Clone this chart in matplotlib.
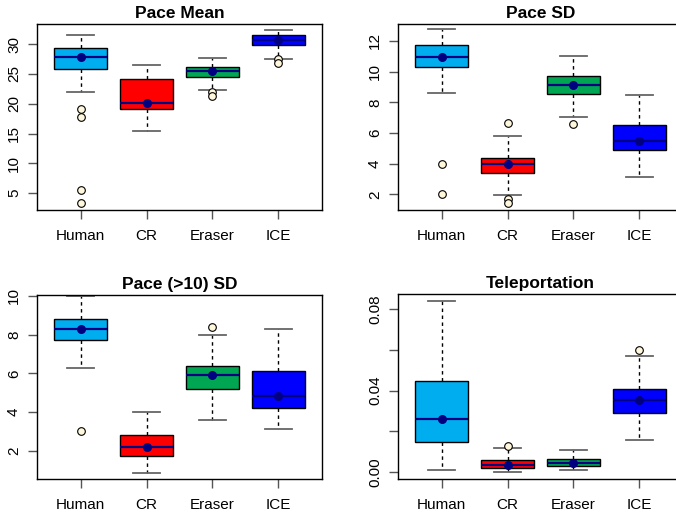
import matplotlib
matplotlib.use('Agg')
import matplotlib.pyplot as plt

plt.rcParams['font.family'] = ['Liberation Sans', 'DejaVu Sans']

groups = ['Human', 'CR', 'Eraser', 'ICE']
colors = ['#00AEEF', '#FF0000', '#00A651', '#0000FF']

# Pace Mean
pm_lo = [22.0, 15.4, 22.3, 27.6]
pm_q1 = [25.9, 19.2, 24.55, 29.9]
pm_med = [27.9, 20.2, 25.55, 30.7]
pm_q3 = [29.4, 24.2, 26.1, 31.6]
pm_hi = [31.6, 26.5, 27.75, 32.4]
pm_mean = [27.9, 20.2, 25.5, 30.7]
pm_out = [[19.2, 17.7, 5.5, 3.3], [], [22.0, 21.3], [27.5, 26.8]]

# Pace SD
ps_lo = [8.6, 1.96, 7.02, 3.13]
ps_q1 = [10.31, 3.36, 8.56, 4.86]
ps_med = [10.94, 3.95, 9.14, 5.5]
ps_q3 = [11.72, 4.36, 9.71, 6.55]
ps_hi = [12.76, 5.83, 11.03, 8.47]
ps_mean = [10.94, 3.95, 9.14, 5.5]
ps_out = [[4.0, 2.0], [6.67, 1.72, 1.46], [6.59], []]

# Pace (>10) SD
p10_lo = [6.25, 0.84, 3.56, 3.12]
p10_q1 = [7.71, 1.70, 5.2, 4.18]
p10_med = [8.3, 2.19, 5.89, 4.82]
p10_q3 = [8.81, 2.81, 6.39, 6.13]
p10_hi = [10.0, 3.98, 8.0, 8.3]
p10_mean = [8.3, 2.19, 5.89, 4.82]
p10_out = [[3.01], [], [8.38], []]

# Teleportation
tp_lo = [0.0010, 0.0, 0.0010, 0.0158]
tp_q1 = [0.0150, 0.0018, 0.0028, 0.0289]
tp_med = [0.0259, 0.0037, 0.0047, 0.0354]
tp_q3 = [0.0449, 0.0059, 0.0062, 0.0408]
tp_hi = [0.0841, 0.0119, 0.0107, 0.0571]
tp_mean = [0.0259, 0.0037, 0.0047, 0.0354]
tp_out = [[], [0.0128], [], [0.0602]]

panels = [
    ('Pace Mean', pm_lo, pm_q1, pm_med, pm_q3, pm_hi, pm_mean, pm_out,
     [5, 10, 15, 20, 25, 30], ['5', '10', '15', '20', '25', '30'], (2.15, 33.4)),
    ('Pace SD', ps_lo, ps_q1, ps_med, ps_q3, ps_hi, ps_mean, ps_out,
     [2, 4, 6, 8, 10, 12], ['2', '4', '6', '8', '10', '12'], (0.98, 13.1)),
    ('Pace (>10) SD', p10_lo, p10_q1, p10_med, p10_q3, p10_hi, p10_mean, p10_out,
     [2, 4, 6, 8, 10], ['2', '4', '6', '8', '10'], (0.53, 10.05)),
    ('Teleportation', tp_lo, tp_q1, tp_med, tp_q3, tp_hi, tp_mean, tp_out,
     [0.0, 0.02, 0.04, 0.06, 0.08], ['0.00', '', '0.04', '', '0.08'], (-0.0034, 0.0875)),
]

W, H = 676, 517
rects = [(37, 24, 285, 186), (398, 24, 285, 186),
         (37, 295, 285, 184), (398, 294, 285, 185)]

fig = plt.figure(figsize=(6.76, 5.17), dpi=100)

for (title, lo, q1, med, q3, hi, mean, out, yt, ytl, ylim), (x0, y0, w, h) in zip(panels, rects):
    ax = fig.add_axes([x0 / W, 1 - (y0 + h) / H, w / W, h / H])
    stats = []
    for i in range(4):
        stats.append(dict(whislo=lo[i], q1=q1[i], med=med[i], q3=q3[i],
                          whishi=hi[i], fliers=out[i], mean=mean[i]))
    bp = ax.bxp(stats, positions=[1, 2, 3, 4], widths=0.8, patch_artist=True,
                showmeans=True, showfliers=True,
                boxprops=dict(edgecolor='black', linewidth=1),
                medianprops=dict(color='#000080', linewidth=1.6),
                whiskerprops=dict(color='black', linestyle=(0, (2.5, 2.5)), linewidth=1),
                capprops=dict(color='#666666', linewidth=1.3),
                capwidths=0.4,
                flierprops=dict(marker='o', markerfacecolor='#FFF8DC',
                                markeredgecolor='black', markersize=5.5, markeredgewidth=0.8),
                meanprops=dict(marker='o', markerfacecolor='#000080',
                               markeredgecolor='#000080', markersize=5.5))
    for patch, c in zip(bp['boxes'], colors):
        patch.set_facecolor(c)
    ax.set_xlim(0.34, 4.66)
    ax.set_ylim(*ylim)
    ax.set_xticks([1, 2, 3, 4])
    ax.set_xticklabels(groups, fontsize=11)
    ax.set_yticks(yt)
    ax.set_yticklabels(ytl, fontsize=11, rotation=90, va='center')
    ax.tick_params(axis='both', direction='out', length=6.5, width=1, color='#555555', pad=5)
    ax.tick_params(axis='x', pad=7)
    for s in ax.spines.values():
        s.set_linewidth(1)
    ax.set_title(title, fontsize=12.5, fontweight='bold', pad=4)

plt.savefig('out.png', dpi=100)
